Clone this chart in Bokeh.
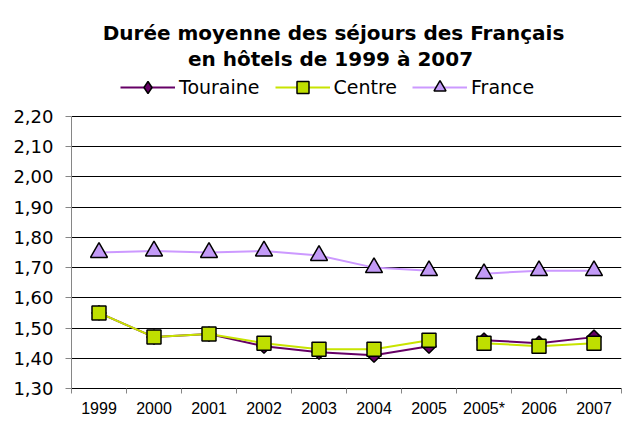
import math
from bokeh.plotting import figure
from bokeh.models import Range1d, FixedTicker, Label, Legend, LegendItem, ColumnDataSource
from bokeh.embed import file_html
from bokeh.resources import INLINE

# ---- data -------------------------------------------------------------
years = ["1999", "2000", "2001", "2002", "2003", "2004", "2005", "2005*", "2006", "2007"]
touraine = [1.55, 1.47, 1.48, 1.44, 1.42, 1.41, 1.44, 1.46, 1.45, 1.47]
centre = [1.55, 1.47, 1.48, 1.45, 1.43, 1.43, 1.46, 1.45, 1.44, 1.45]
france = [1.75, 1.755, 1.75, 1.755, 1.74, 1.70, 1.69, 1.68, 1.69, 1.69]
series_names = ["Touraine", "Centre", "France"]
y_ticks = [1.30, 1.40, 1.50, 1.60, 1.70, 1.80, 1.90, 2.00, 2.10, 2.20]
y_tick_labels = ["1,30", "1,40", "1,50", "1,60", "1,70", "1,80", "1,90", "2,00", "2,10", "2,20"]
break_before = "2005*"   # the series are interrupted before this category
title_lines = ["Durée moyenne des séjours des Français", "en hôtels de 1999 à 2007"]

# ---- layout constants (pixels) ----------------------------------------
W, H = 624, 421
LEFT, RIGHT, BOTTOM = 71, 3, 33
FRAME_H = H - BOTTOM          # frame reaches the top of the canvas
AXIS_TOP = 116                # pixel row of the top tick (2,20)
AXIS_PX = FRAME_H - AXIS_TOP  # pixels used by the value axis

FONT = "DejaVu Sans"
x_idx = list(range(len(years)))
cut = years.index(break_before)

y_lo, y_hi = y_ticks[0], y_ticks[-1]
y_end = y_lo + (y_hi - y_lo) * FRAME_H / AXIS_PX   # room above for title + legend

p = figure(width=W, height=H, title=None,
           x_range=Range1d(-0.5, len(years) - 0.5),
           y_range=Range1d(y_lo, y_end),
           output_backend="svg", toolbar_location=None,
           min_border_left=LEFT, min_border_right=RIGHT, min_border_bottom=BOTTOM,
           min_border_top=0)
p.outline_line_color = None
p.background_fill_color = "white"
p.border_fill_color = "white"

# grid
p.xgrid.grid_line_color = None
p.ygrid.grid_line_color = "black"
p.ygrid.grid_line_width = 1

# y axis (limited to the value range)
p.yaxis.bounds = (y_lo, y_hi)
p.yaxis.ticker = FixedTicker(ticks=y_ticks)
p.yaxis.major_label_overrides = {t: l for t, l in zip(y_ticks, y_tick_labels)}
p.yaxis.axis_line_color = "#868686"
p.yaxis.major_tick_line_color = "#868686"
p.yaxis.major_tick_in = 0
p.yaxis.major_tick_out = 6
p.yaxis.minor_tick_line_color = None
p.yaxis.major_label_standoff = 12
p.yaxis.major_label_text_font = FONT
p.yaxis.major_label_text_font_size = "18px"
p.yaxis.major_label_text_color = "black"

# x axis: labels at category centres, tick marks between categories
p.xaxis.ticker = FixedTicker(ticks=x_idx, minor_ticks=[i - 0.5 for i in range(len(years) + 1)])
p.xaxis.major_label_overrides = {i: y for i, y in zip(x_idx, years)}
p.xaxis.axis_line_color = "black"
p.xaxis.major_tick_line_color = None
p.xaxis.minor_tick_line_color = "#868686"
p.xaxis.minor_tick_in = 0
p.xaxis.minor_tick_out = 5
p.xaxis.major_label_standoff = 5
p.xaxis.major_label_text_font = "Liberation Sans"
p.xaxis.major_label_text_font_size = "16px"
p.xaxis.major_label_text_color = "black"

styles = {
    "Touraine": dict(line="#660066", fill="#660066", marker="square", size=10,
                     angle=math.pi / 4, legend_marker="diamond"),
    "Centre": dict(line="#C8E400", fill="#BFDF00", marker="square", size=14,
                   angle=0.0, legend_marker="square"),
    "France": dict(line="#CC99FF", fill="#C29AF6", marker="triangle", size=17,
                   angle=0.0, legend_marker="triangle"),
}
values = {"Touraine": touraine, "Centre": centre, "France": france}

items = []
for name in series_names:
    st = styles[name]
    vals = values[name]
    rends = []
    for a, b in [(0, cut), (cut, len(years))]:
        src = ColumnDataSource(dict(x=x_idx[a:b], y=vals[a:b]))
        r = p.line("x", "y", source=src, line_color=st["line"], line_width=2)
        rends.append(r)
    src_all = ColumnDataSource(dict(x=x_idx, y=vals))
    p.scatter("x", "y", source=src_all, marker=st["marker"], size=st["size"],
              angle=st["angle"], fill_color=st["fill"], line_color="black", line_width=1.5)
    # legend-only marker: one point with no value, so nothing shows in the plot
    lm = p.scatter(x=[x_idx[0]], y=[float("nan")], marker=st["legend_marker"], size=st["size"],
                   fill_color=st["fill"], line_color="black", line_width=1.5)
    items.append(LegendItem(label=name, renderers=[rends[0], lm]))

legend = Legend(items=items, orientation="horizontal", location=(49, FRAME_H - 102),
                padding=0, margin=0, spacing=15, glyph_width=55, glyph_height=30,
                label_standoff=4, label_text_font=FONT, label_text_font_size="19px",
                label_text_color="black",
                background_fill_alpha=0, border_line_color=None)
p.add_layout(legend, "center")

for text, cx, base in [(title_lines[0], 262, 32), (title_lines[1], 259, 58)]:
    p.add_layout(Label(x=cx, y=FRAME_H - base, x_units="screen", y_units="screen",
                       text=text, text_align="center", text_baseline="alphabetic",
                       text_font=FONT, text_font_style="bold", text_font_size="20px",
                       text_color="black"))

open("out.html", "w").write(file_html(p, INLINE))
